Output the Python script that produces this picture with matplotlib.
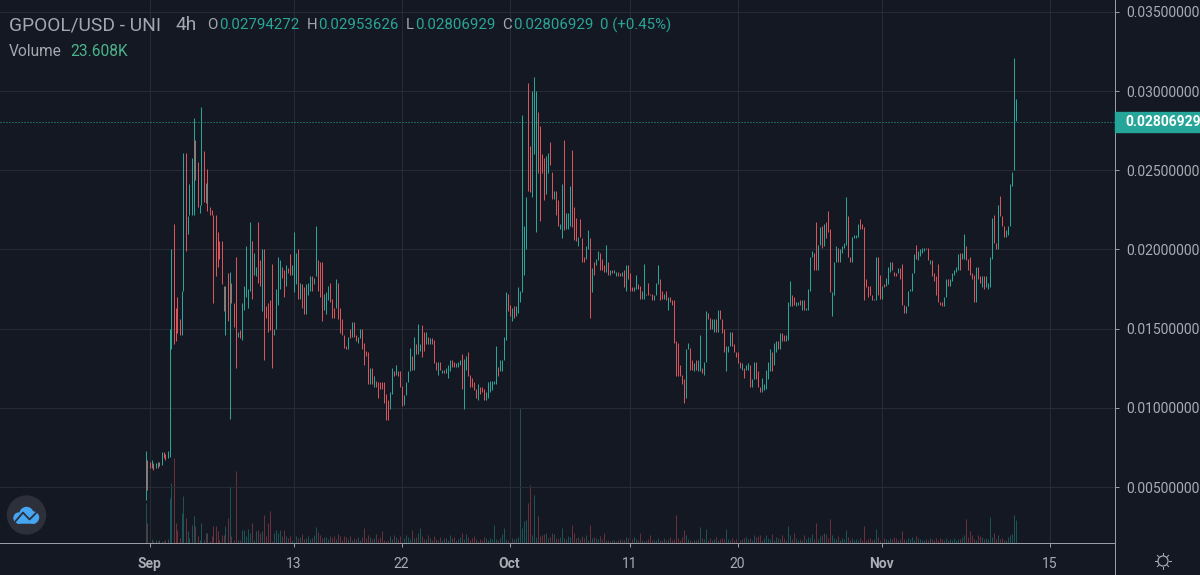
import numpy as np
import pandas as pd
import matplotlib
matplotlib.use('Agg')
import matplotlib.pyplot as plt
import matplotlib.dates as mdates
from matplotlib.lines import Line2D
from matplotlib.patches import Circle, Rectangle, Polygon
from matplotlib.transforms import blended_transform_factory

plt.rcParams['font.family'] = ['Roboto', 'DejaVu Sans']

# candle highs and lows in units of 1e-4, one row is 10 bars of 4h
highs = [
    73, 67, 66, 67, 65, 65, 66, 66, 72, 72,
    71, 73, 150, 200, 216, 163, 170, 156, 174, 261,
    261, 221, 241, 258, 283, 269, 255, 228, 290, 262,
    242, 251, 227, 225, 222, 222, 211, 205, 205, 177,
    177, 185, 186, 179, 166, 195, 148, 149, 166, 177,
    202, 175, 217, 205, 198, 189, 217, 193, 200, 200,
    164, 166, 168, 191, 150, 175, 195, 193, 189, 187,
    190, 188, 197, 190, 211, 198, 200, 179, 178, 176,
    178, 179, 183, 183, 182, 215, 193, 192, 192, 172,
    173, 177, 179, 169, 163, 181, 179, 163, 156, 146,
    139, 145, 150, 154, 154, 146, 145, 150, 150, 141,
    136, 135, 125, 125, 120, 117, 116, 116, 116, 116,
    109, 105, 110, 125, 123, 127, 123, 123, 114, 108,
    116, 123, 138, 133, 145, 140, 153, 140, 152, 148,
    148, 145, 144, 144, 143, 129, 129, 129, 124, 124,
    125, 127, 130, 130, 129, 128, 129, 130, 134, 131,
    133, 135, 121, 119, 116, 112, 115, 113, 113, 112,
    110, 116, 117, 117, 117, 139, 126, 130, 130, 145,
    173, 172, 165, 163, 164, 164, 176, 174, 285, 215,
    233, 305, 265, 300, 309, 300, 287, 278, 260, 258,
    259, 261, 268, 249, 237, 237, 231, 216, 241, 269,
    223, 223, 240, 263, 227, 220, 208, 219, 207, 195,
    202, 212, 207, 188, 192, 194, 199, 198, 194, 190,
    203, 192, 187, 187, 187, 186, 186, 185, 186, 187,
    190, 190, 185, 176, 176, 184, 178, 177, 174, 191,
    172, 179, 172, 172, 171, 179, 190, 181, 174, 172,
    174, 170, 170, 168, 168, 142, 141, 127, 121, 118,
    137, 141, 138, 130, 128, 130, 130, 146, 125, 129,
    161, 160, 157, 156, 156, 156, 162, 162, 156, 150,
    139, 139, 148, 148, 140, 135, 135, 129, 128, 125,
    127, 128, 127, 118, 129, 129, 123, 113, 119, 115,
    124, 129, 137, 135, 141, 142, 142, 147, 147, 146,
    146, 167, 180, 171, 170, 167, 167, 168, 168, 168,
    163, 175, 195, 199, 198, 217, 203, 214, 215, 216,
    217, 224, 213, 173, 192, 202, 201, 200, 202, 204,
    233, 221, 195, 208, 209, 209, 216, 219, 216, 214,
    181, 177, 177, 171, 169, 195, 195, 184, 177, 178,
    182, 189, 192, 192, 186, 185, 188, 188, 191, 165,
    164, 174, 175, 185, 197, 203, 199, 200, 201, 201,
    201, 201, 193, 193, 185, 183, 191, 167, 167, 170,
    181, 181, 181, 185, 187, 189, 197, 198, 198, 210,
    202, 194, 195, 185, 184, 189, 189, 183, 183, 183,
    183, 179, 195, 220, 222, 204, 228, 234, 221, 215,
    212, 215, 241, 249, 321, 295,
]
lows = [
    42, 48, 62, 62, 61, 62, 62, 63, 64, 68,
    67, 68, 69, 137, 140, 142, 147, 146, 146, 174,
    199, 210, 222, 222, 222, 244, 227, 223, 228, 230,
    229, 224, 222, 222, 166, 183, 189, 194, 178, 161,
    146, 155, 93, 166, 151, 125, 145, 144, 143, 162,
    170, 163, 174, 169, 184, 183, 179, 177, 161, 130,
    157, 148, 149, 125, 146, 150, 165, 175, 182, 170,
    177, 185, 184, 184, 173, 178, 169, 169, 163, 159,
    159, 171, 174, 174, 178, 183, 174, 170, 155, 162,
    159, 168, 167, 157, 157, 163, 156, 147, 146, 138,
    137, 137, 144, 145, 145, 142, 141, 144, 137, 127,
    133, 115, 115, 115, 113, 113, 106, 112, 112, 103,
    92, 92, 99, 109, 120, 121, 120, 113, 101, 102,
    108, 116, 123, 124, 124, 134, 134, 136, 132, 136,
    140, 140, 140, 140, 128, 124, 121, 124, 122, 122,
    122, 119, 123, 126, 126, 126, 126, 127, 112, 99,
    124, 120, 113, 113, 111, 106, 105, 109, 110, 105,
    105, 106, 110, 111, 115, 115, 120, 123, 123, 130,
    143, 161, 158, 155, 157, 158, 160, 167, 173, 184,
    200, 237, 236, 233, 260, 211, 248, 218, 248, 231,
    235, 248, 253, 232, 232, 222, 215, 213, 207, 212,
    213, 213, 215, 214, 206, 205, 202, 208, 192, 192,
    194, 200, 157, 173, 184, 190, 193, 187, 187, 186,
    186, 184, 184, 185, 185, 183, 183, 183, 183, 176,
    174, 181, 174, 174, 174, 175, 175, 169, 169, 169,
    171, 171, 171, 168, 168, 171, 178, 168, 169, 169,
    168, 162, 167, 165, 141, 120, 120, 120, 115, 103,
    106, 137, 124, 124, 123, 124, 123, 123, 122, 121,
    129, 156, 150, 150, 148, 148, 148, 156, 147, 135,
    123, 135, 139, 139, 135, 132, 128, 125, 124, 119,
    124, 124, 113, 113, 118, 118, 113, 110, 110, 111,
    112, 118, 123, 123, 127, 135, 137, 137, 142, 142,
    142, 143, 164, 164, 165, 164, 165, 165, 162, 162,
    162, 162, 174, 195, 187, 187, 187, 203, 201, 202,
    207, 211, 173, 158, 171, 192, 192, 192, 198, 201,
    203, 195, 192, 192, 207, 207, 208, 213, 213, 168,
    176, 170, 171, 168, 168, 168, 171, 169, 169, 176,
    177, 178, 186, 187, 183, 183, 185, 181, 165, 160,
    160, 164, 174, 174, 185, 194, 193, 196, 198, 199,
    200, 193, 191, 183, 180, 171, 167, 165, 164, 164,
    170, 177, 177, 180, 184, 186, 187, 187, 194, 194,
    193, 187, 184, 181, 167, 167, 181, 179, 176, 175,
    176, 175, 176, 194, 204, 200, 200, 221, 215, 208,
    208, 209, 215, 240, 250, 281,
]
# u = close over open, d = close under open
directions = (
    "uddududuud" "duuudddduu" "duuuudduud" "uddddddddd"
    "ududdduduu" "uuuduuddud" "dddduuuudd" "udduuududd"
    "uuuduudddu" "uudddudddd" "dududduudd" "ddududdddd"
    "dduududddu" "uuududuudd" "ududddudud" "uuudduuudu"
    "uddddduddd" "uuuuuuduuu" "udduduuuuu" "udduuudddd"
    "uuddudduud" "uuuddduddd" "uududuuddd" "ududuuddud"
    "uddduudduu" "dddduuuddu" "dudddddddd" "uudduduudu"
    "udduududdd" "uuudddddud" "uuduuddduu" "uuuduududd"
    "uuudduudud" "uuuudduudu" "ddduuuduuu" "udduuuuddd"
    "dddduuddud" "uuuddduddd" "uuuuuduuuu" "dduddddddu"
    "uduuuuuduu" "ddddduddud" "uuuudduddd" "uuuuuu"
)
# volume per bar in thousands
volumes = [
    40, 20, 5, 4, 2, 3, 2, 3, 2, 2,
    3, 4, 45, 60, 85, 20, 13, 5, 30, 47,
    25, 12, 5, 18, 27, 17, 7, 3, 20, 3,
    10, 10, 2, 7, 17, 17, 12, 3, 8, 8,
    17, 25, 57, 7, 3, 72, 3, 3, 13, 13,
    7, 14, 10, 20, 3, 12, 13, 10, 12, 28,
    7, 20, 32, 2, 10, 13, 10, 13, 7, 13,
    7, 5, 7, 3, 23, 7, 5, 6, 9, 4,
    5, 7, 4, 5, 8, 16, 11, 8, 5, 6,
    6, 4, 7, 5, 7, 4, 9, 7, 3, 7,
    6, 4, 7, 3, 5, 4, 6, 3, 6, 15,
    5, 8, 6, 4, 5, 9, 4, 6, 12, 3,
    2, 3, 7, 4, 8, 6, 4, 7, 3, 5,
    8, 6, 4, 13, 5, 6, 10, 15, 7, 4,
    4, 8, 5, 3, 7, 4, 3, 6, 3, 5,
    5, 3, 8, 5, 6, 3, 4, 6, 10, 4,
    9, 6, 3, 5, 7, 4, 2, 4, 3, 6,
    5, 3, 5, 4, 18, 4, 3, 5, 9, 15,
    4, 3, 3, 5, 4, 5, 6, 135, 15, 22,
    23, 40, 58, 8, 48, 6, 27, 7, 8, 9,
    10, 5, 6, 10, 9, 5, 4, 6, 15, 5,
    4, 7, 6, 18, 10, 5, 6, 4, 7, 5,
    8, 3, 18, 5, 6, 5, 4, 7, 4, 10,
    3, 3, 2, 3, 3, 2, 3, 4, 3, 3,
    6, 5, 3, 4, 6, 4, 3, 10, 3, 2,
    3, 4, 8, 3, 3, 3, 5, 3, 3, 5,
    3, 4, 6, 3, 4, 28, 5, 3, 6, 13,
    8, 4, 3, 2, 3, 3, 4, 16, 5, 4,
    14, 3, 5, 3, 4, 6, 3, 4, 5, 4,
    14, 4, 3, 5, 3, 4, 6, 3, 4, 5,
    6, 4, 5, 3, 8, 6, 7, 8, 3, 5,
    8, 5, 4, 9, 3, 6, 5, 4, 8, 5,
    3, 17, 8, 4, 10, 5, 3, 4, 3, 8,
    4, 6, 5, 9, 4, 20, 4, 7, 8, 10,
    9, 5, 24, 8, 5, 4, 7, 3, 5, 4,
    13, 6, 3, 5, 3, 4, 3, 5, 3, 17,
    3, 4, 5, 3, 4, 14, 6, 3, 4, 5,
    4, 3, 5, 4, 6, 5, 3, 4, 12, 4,
    3, 5, 4, 6, 3, 7, 5, 4, 3, 3,
    4, 3, 5, 4, 3, 5, 3, 5, 4, 3,
    5, 3, 4, 3, 5, 3, 4, 4, 6, 8,
    24, 6, 12, 8, 4, 3, 8, 7, 6, 4,
    5, 4, 26, 6, 10, 4, 8, 4, 5, 3,
    3, 6, 8, 9, 28, 23,
]
y_ticks = [0.005, 0.01, 0.015, 0.02, 0.025, 0.03, 0.035]
x_tick_dates = ['2020-09-01', '2020-09-13', '2020-09-22', '2020-10-01',
                '2020-10-11', '2020-10-20', '2020-11-01', '2020-11-15']
x_tick_labels = ['Sep', '13', '22', 'Oct', '11', '20', 'Nov', '15']
last_close = 0.02806929

BG = '#141823'
GRID = '#272b36'
AXIS = '#9a9da6'
LABEL = '#a9acb5'
UP = '#2ba598'
DOWN = '#d9555a'
PX = 0.72  # one pixel in points at dpi 100

assert len(highs) == len(lows) == len(directions) == len(volumes)

times = pd.date_range('2020-08-31 16:00', periods=len(highs), freq='4h')
x = mdates.date2num(times)
hi = np.array(highs) * 1e-4
lo = np.array(lows) * 1e-4
colors = [UP if d == 'u' else DOWN for d in directions]

fig = plt.figure(figsize=(12, 5.75), dpi=100, facecolor=BG)
rect = [0, 32 / 575, 1115 / 1200, 543 / 575]
ax = fig.add_axes(rect)
ax.set_facecolor(BG)

# volume goes on its own scale under the candles
vol_ax = ax.twinx()
vol_ax.set_axis_off()
vol_ax.vlines(x, 0, volumes, colors=colors, linewidth=PX, alpha=0.42)
vol_ax.set_ylim(0, 543)
ax.set_zorder(vol_ax.get_zorder() + 1)
ax.patch.set_visible(False)

ax.vlines(x, lo, hi, colors=colors, linewidth=PX, zorder=3)
ax.axhline(last_close, color=UP, linewidth=PX, linestyle=(0, (1, 2)), zorder=2)

# 12 px a day puts each 4h bar on a whole pixel, else the neighbours mix to grey
day0 = mdates.date2num(pd.Timestamp('2020-09-01'))
ax.set_xlim(day0 - 149.5 / 12, day0 + (1115 - 149.5) / 12)
ax.set_ylim(0.001465, 0.035745)
vol_ax.set_xlim(ax.get_xlim())

ax.yaxis.tick_right()
ax.set_yticks(y_ticks)
ax.set_yticklabels(['%.8f' % v for v in y_ticks])
ax.set_xticks(mdates.date2num(pd.to_datetime(x_tick_dates)))
ax.set_xticklabels(x_tick_labels)
ax.grid(True, color=GRID, linewidth=PX)
ax.set_axisbelow(True)
ax.tick_params(axis='y', colors=AXIS, labelcolor=LABEL, length=3, width=PX,
               pad=5, labelsize=10)
ax.tick_params(axis='x', colors=AXIS, labelcolor=LABEL, length=3, width=PX,
               pad=7, labelsize=10)
for lab in ax.get_xticklabels():
    if lab.get_text() in ('Sep', 'Oct', 'Nov'):
        lab.set_fontweight('bold')
for side in ('top', 'left'):
    ax.spines[side].set_visible(False)
for side in ('right', 'bottom'):
    ax.spines[side].set_color(AXIS)
    ax.spines[side].set_linewidth(PX)

# teal price tag on the axis
trans = blended_transform_factory(ax.transAxes, ax.transData)
ax.add_patch(Rectangle((1.0, last_close - 10 * 6.313e-5), 85 / 1115, 20 * 6.313e-5,
                       transform=trans, clip_on=False, color='#26a69a', zorder=5))
ax.text(1.0 + 10 / 1115, last_close, '%.8f' % last_close, transform=trans, color='white',
        fontsize=10, fontweight='bold', va='center', ha='left', zorder=6, clip_on=False)

# pixel overlay for header text and the two little icons
ov = fig.add_axes([0, 0, 1, 1], zorder=10)
ov.set_xlim(0, 1200)
ov.set_ylim(575, 0)
ov.axis('off')

GRAY = '#a4a7b0'
TEAL = '#2aa697'
header = [
    (9, 'GPOOL/USD - UNI', GRAY, 13.8),
    (176, '4h', GRAY, 13.8),
    (207, 'O', GRAY, 10.8),
    (219, '0.02794272', TEAL, 10.8),
    (307, 'H', GRAY, 10.8),
    (318, '0.02953626', TEAL, 10.8),
    (406, 'L', GRAY, 10.8),
    (415, '0.02806929', TEAL, 10.8),
    (502, 'C', GRAY, 10.8),
    (513, '0.02806929', TEAL, 10.8),
    (600, '0 (+0.45%)', TEAL, 10.8),
]
for px, txt, col, size in header:
    ov.text(px, 25, txt, color=col, fontsize=size, va='center', ha='left')
ov.text(9, 51, 'Volume', color=GRAY, fontsize=11.2, va='center', ha='left')
ov.text(70, 51, '23.608K', color='#4bb58a', fontsize=11.2, va='center', ha='left')

# axis line runs on down to the bottom edge
ov.add_line(Line2D([1115, 1115], [543, 575], color=AXIS, linewidth=PX))

# logo
ov.add_patch(Circle((26.5, 515), 19, color='#2d303b'))
blue = '#45a6f2'
for cx, cy, r in [(19, 518, 5), (26.5, 514, 6.5), (33, 517.5, 5.5)]:
    ov.add_patch(Circle((cx, cy), r, color=blue))
ov.add_patch(Polygon([(18, 518), (34, 518), (35, 523), (18, 523)], color=blue))
ov.add_line(Line2D([14, 23, 29.5, 37], [523, 512.5, 519.5, 512], color='#2d303b', linewidth=1.3))

# settings icon
ov.add_patch(Circle((1163, 561), 5, fill=False, edgecolor=LABEL, linewidth=PX * 1.2))
for ang in np.arange(0, 360, 45):
    dx, dy = np.cos(np.radians(ang)), np.sin(np.radians(ang))
    ov.add_line(Line2D([1163 + 6 * dx, 1163 + 8 * dx], [561 + 6 * dy, 561 + 8 * dy],
                       color=LABEL, linewidth=PX))

fig.savefig('out.png', dpi=100, facecolor=BG)
